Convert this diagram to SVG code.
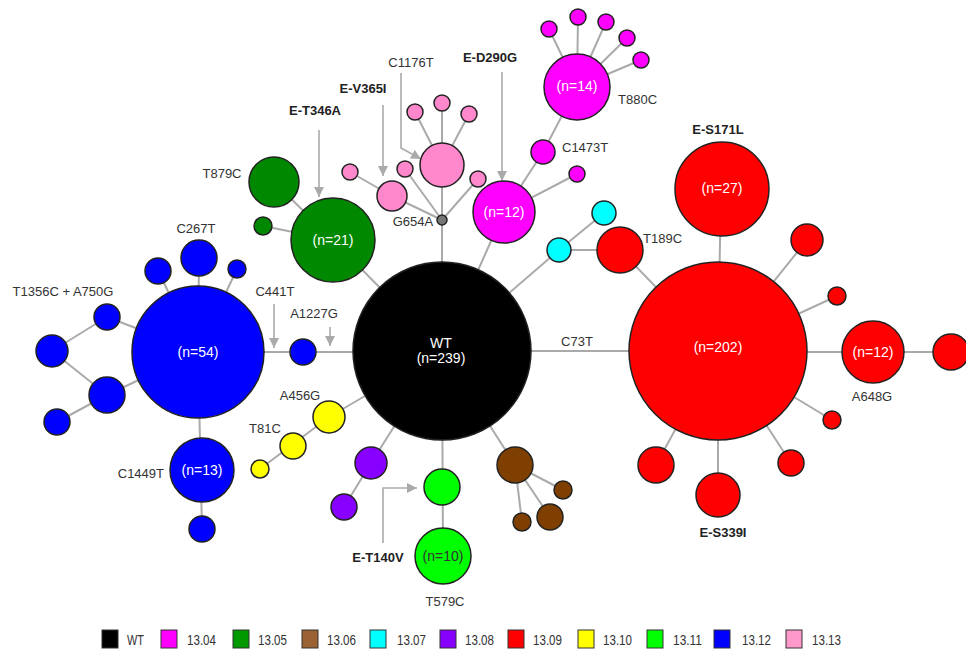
<svg xmlns="http://www.w3.org/2000/svg" width="966" height="650" viewBox="0 0 966 650">
<style>
.e{stroke:#aaa;stroke-width:2;fill:none}
.a{stroke:#aaa;stroke-width:1.6;fill:none}
circle{stroke:#222;stroke-width:1.5}
.wt{fill:#000}.c04{fill:#ff00ff}.c05{fill:#008800}.c06{fill:#7f3f00}.c07{fill:#00ffff}.c08{fill:#8800ff}.c09{fill:#ff0000}.c10{fill:#ffff00}.c11{fill:#00ff00}.c12{fill:#0000ff}.c13{fill:#ff88cc}.g{fill:#777}
text{font-family:"Liberation Sans",Arial,sans-serif;font-size:13px;fill:#333}
.b{font-weight:bold;fill:#222}
.in{fill:#fff;font-size:14px;text-anchor:middle}
.m{text-anchor:middle}.r{text-anchor:end}
.lg{font-size:14px;fill:#333}
.lb{stroke:#333;stroke-width:1}
</style>
<defs>
<marker id="ah" viewBox="0 0 10 10" refX="10" refY="5" markerWidth="10" markerHeight="10" markerUnits="userSpaceOnUse" orient="auto">
<path d="M0,0 L10,5 L0,10 z" fill="#aaa"/>
</marker>
</defs>
<rect width="966" height="650" fill="#fff"/>
<g id="connectors">
<line class="e" x1="442" y1="351" x2="718" y2="351"/>
<line class="e" x1="442" y1="352" x2="198" y2="352"/>
<line class="e" x1="442" y1="351" x2="442" y2="103"/>
<line class="e" x1="442" y1="165" x2="415" y2="112"/>
<line class="e" x1="442" y1="165" x2="469" y2="114"/>
<line class="e" x1="442" y1="220" x2="392" y2="196"/>
<line class="e" x1="392" y1="196" x2="350" y2="172"/>
<line class="e" x1="442" y1="220" x2="405" y2="169"/>
<line class="e" x1="442" y1="220" x2="478" y2="179"/>
<line class="e" x1="442" y1="351" x2="504" y2="212"/>
<line class="e" x1="504" y1="212" x2="543" y2="152"/>
<line class="e" x1="543" y1="152" x2="577" y2="87"/>
<line class="e" x1="504" y1="212" x2="577" y2="174"/>
<line class="e" x1="577" y1="87" x2="549" y2="29"/>
<line class="e" x1="577" y1="87" x2="578" y2="17"/>
<line class="e" x1="577" y1="87" x2="606" y2="22"/>
<line class="e" x1="577" y1="87" x2="627" y2="38"/>
<line class="e" x1="577" y1="87" x2="641" y2="60"/>
<line class="e" x1="442" y1="351" x2="559" y2="250"/>
<line class="e" x1="559" y1="250" x2="604" y2="213"/>
<line class="e" x1="559" y1="250" x2="620" y2="250"/>
<line class="e" x1="620" y1="250" x2="718" y2="351"/>
<line class="e" x1="718" y1="351" x2="721" y2="189"/>
<line class="e" x1="718" y1="351" x2="807" y2="240"/>
<line class="e" x1="718" y1="351" x2="837" y2="296"/>
<line class="e" x1="718" y1="352" x2="951" y2="352"/>
<line class="e" x1="718" y1="351" x2="832" y2="420"/>
<line class="e" x1="718" y1="351" x2="791" y2="463"/>
<line class="e" x1="718" y1="351" x2="718" y2="495"/>
<line class="e" x1="718" y1="351" x2="656" y2="465"/>
<line class="e" x1="442" y1="351" x2="333" y2="240"/>
<line class="e" x1="333" y1="240" x2="274" y2="182"/>
<line class="e" x1="333" y1="240" x2="263" y2="226"/>
<line class="e" x1="198" y1="352" x2="199" y2="258"/>
<line class="e" x1="198" y1="352" x2="158" y2="271"/>
<line class="e" x1="198" y1="352" x2="237" y2="269"/>
<line class="e" x1="198" y1="352" x2="107" y2="317"/>
<line class="e" x1="107" y1="317" x2="52" y2="351"/>
<line class="e" x1="198" y1="352" x2="107" y2="395"/>
<line class="e" x1="107" y1="395" x2="52" y2="351"/>
<line class="e" x1="107" y1="395" x2="57" y2="422"/>
<line class="e" x1="198" y1="352" x2="202" y2="529"/>
<line class="e" x1="442" y1="351" x2="329" y2="417"/>
<line class="e" x1="329" y1="417" x2="260" y2="469"/>
<line class="e" x1="442" y1="351" x2="371" y2="463"/>
<line class="e" x1="371" y1="463" x2="344" y2="507"/>
<line class="e" x1="442" y1="351" x2="443" y2="556"/>
<line class="e" x1="442" y1="351" x2="515" y2="465"/>
<line class="e" x1="515" y1="465" x2="563" y2="490"/>
<line class="e" x1="515" y1="465" x2="550" y2="517"/>
<line class="e" x1="515" y1="465" x2="522" y2="522"/>
</g>
<g id="arrows">
<path class="a" d="M319,130 V197" marker-end="url(#ah)"/>
<path class="a" d="M383,105 V176" marker-end="url(#ah)"/>
<path class="a" d="M401,73 V148 L421,159" marker-end="url(#ah)"/>
<path class="a" d="M502,72 V181" marker-end="url(#ah)"/>
<path class="a" d="M274,304 V348" marker-end="url(#ah)"/>
<path class="a" d="M330,327 V346" marker-end="url(#ah)"/>
<path class="a" d="M383,543 V488 H417" marker-end="url(#ah)"/>
</g>
<g id="node-wt"><circle class="wt" cx="442" cy="351" r="89"/><text class="in" x="441" y="348">WT</text><text class="in" x="441" y="363">(n=239)</text></g>
<g id="node-r202"><circle class="c09" cx="718" cy="351" r="89"/><text class="in" x="718" y="352">(n=202)</text></g>
<g id="node-r27"><circle class="c09" cx="722" cy="189" r="47"/><text class="in" x="722" y="193">(n=27)</text></g>
<g id="node-r1"><circle class="c09" cx="807" cy="240" r="16"/></g>
<g id="node-r2"><circle class="c09" cx="837" cy="296" r="9"/></g>
<g id="node-r12"><circle class="c09" cx="873" cy="352" r="31"/><text class="in" x="873" y="357">(n=12)</text></g>
<g id="node-r3"><circle class="c09" cx="951" cy="352" r="18"/></g>
<g id="node-r4"><circle class="c09" cx="832" cy="420" r="9"/></g>
<g id="node-r5"><circle class="c09" cx="791" cy="463" r="13"/></g>
<g id="node-r6"><circle class="c09" cx="718" cy="495" r="22"/></g>
<g id="node-r7"><circle class="c09" cx="656" cy="465" r="18"/></g>
<g id="node-t189"><circle class="c09" cx="620" cy="250" r="23"/></g>
<g id="node-cy1"><circle class="c07" cx="559" cy="250" r="12"/></g>
<g id="node-cy2"><circle class="c07" cx="604" cy="213" r="12"/></g>
<g id="node-m12"><circle class="c04" cx="504" cy="212" r="31"/><text class="in" x="504" y="217">(n=12)</text></g>
<g id="node-m1473"><circle class="c04" cx="543" cy="152" r="12"/></g>
<g id="node-ms"><circle class="c04" cx="577" cy="174" r="8"/></g>
<g id="node-m14"><circle class="c04" cx="577" cy="87" r="33"/><text class="in" x="577" y="91">(n=14)</text></g>
<g id="node-m1"><circle class="c04" cx="549" cy="29" r="8"/></g>
<g id="node-m2"><circle class="c04" cx="578" cy="17" r="8"/></g>
<g id="node-m3"><circle class="c04" cx="606" cy="22" r="8"/></g>
<g id="node-m4"><circle class="c04" cx="627" cy="38" r="8"/></g>
<g id="node-m5"><circle class="c04" cx="641" cy="60" r="8"/></g>
<g id="node-g654"><circle class="g" cx="442" cy="220" r="5"/></g>
<g id="node-pbig"><circle class="c13" cx="442" cy="165" r="22"/></g>
<g id="node-p1"><circle class="c13" cx="415" cy="112" r="8"/></g>
<g id="node-p2"><circle class="c13" cx="442" cy="103" r="8"/></g>
<g id="node-p3"><circle class="c13" cx="469" cy="114" r="8"/></g>
<g id="node-p4"><circle class="c13" cx="350" cy="172" r="8"/></g>
<g id="node-p5"><circle class="c13" cx="405" cy="169" r="8"/></g>
<g id="node-p6"><circle class="c13" cx="478" cy="179" r="8"/></g>
<g id="node-pm"><circle class="c13" cx="392" cy="196" r="15"/></g>
<g id="node-g21"><circle class="c05" cx="333" cy="240" r="42"/><text class="in" x="333" y="245">(n=21)</text></g>
<g id="node-g879"><circle class="c05" cx="274" cy="182" r="25"/></g>
<g id="node-gs"><circle class="c05" cx="263" cy="226" r="9"/></g>
<g id="node-b54"><circle class="c12" cx="198" cy="352" r="66"/><text class="in" x="198" y="357">(n=54)</text></g>
<g id="node-b267"><circle class="c12" cx="199" cy="258" r="18"/></g>
<g id="node-b1"><circle class="c12" cx="158" cy="271" r="13"/></g>
<g id="node-b2"><circle class="c12" cx="237" cy="269" r="9"/></g>
<g id="node-b3"><circle class="c12" cx="107" cy="317" r="13"/></g>
<g id="node-b4"><circle class="c12" cx="52" cy="351" r="16"/></g>
<g id="node-b5"><circle class="c12" cx="107" cy="395" r="18"/></g>
<g id="node-b6"><circle class="c12" cx="57" cy="422" r="13"/></g>
<g id="node-b1227"><circle class="c12" cx="303" cy="352" r="13"/></g>
<g id="node-b13"><circle class="c12" cx="202" cy="470" r="32"/><text class="in" x="202" y="475">(n=13)</text></g>
<g id="node-b7"><circle class="c12" cx="202" cy="529" r="13"/></g>
<g id="node-y1"><circle class="c10" cx="329" cy="417" r="16"/></g>
<g id="node-y2"><circle class="c10" cx="293" cy="446" r="13"/></g>
<g id="node-y3"><circle class="c10" cx="260" cy="469" r="9"/></g>
<g id="node-pu1"><circle class="c08" cx="371" cy="463" r="16"/></g>
<g id="node-pu2"><circle class="c08" cx="344" cy="507" r="13"/></g>
<g id="node-l1"><circle class="c11" cx="442" cy="487" r="18"/></g>
<g id="node-l10"><circle class="c11" cx="443" cy="556" r="28"/><text class="in" x="443" y="561" style="fill:#333">(n=10)</text></g>
<g id="node-br1"><circle class="c06" cx="515" cy="465" r="18"/></g>
<g id="node-br2"><circle class="c06" cx="563" cy="490" r="9"/></g>
<g id="node-br3"><circle class="c06" cx="550" cy="517" r="13"/></g>
<g id="node-br4"><circle class="c06" cx="522" cy="522" r="9"/></g>
<g id="labels">
<text class="b m" x="315" y="115">E-T346A</text>
<text class="b m" x="363" y="93">E-V365I</text>
<text class="m" x="411" y="67">C1176T</text>
<text class="b m" x="490" y="62">E-D290G</text>
<text x="618" y="104">T880C</text>
<text x="562" y="152">C1473T</text>
<text class="m" x="413" y="226">G654A</text>
<text class="m" x="222" y="178">T879C</text>
<text class="m" x="196" y="233">C267T</text>
<text class="m" x="63" y="296">T1356C + A750G</text>
<text class="m" x="275" y="296">C441T</text>
<text class="m" x="314" y="318">A1227G</text>
<text class="m" x="300" y="400">A456G</text>
<text class="m" x="265" y="433">T81C</text>
<text class="r" x="164" y="478">C1449T</text>
<text class="b m" x="378" y="562">E-T140V</text>
<text class="m" x="445" y="606">T579C</text>
<text class="m" x="577" y="346">C73T</text>
<text class="b m" x="718" y="134">E-S171L</text>
<text x="643" y="243">T189C</text>
<text class="m" x="872" y="401">A648G</text>
<text class="b m" x="723" y="537">E-S339I</text>
</g>
<g id="legend">
<rect class="lb wt" x="102" y="630" width="16" height="18"/><text class="lg" x="127" y="645" textLength="17" lengthAdjust="spacingAndGlyphs">WT</text>
<rect class="lb c04" x="161" y="630" width="16" height="18"/><text class="lg" x="187" y="645" textLength="29" lengthAdjust="spacingAndGlyphs">13.04</text>
<rect class="lb" fill="#009900" x="233" y="630" width="16" height="18"/><text class="lg" x="258" y="645" textLength="29" lengthAdjust="spacingAndGlyphs">13.05</text>
<rect class="lb" fill="#9b6333" x="302" y="630" width="16" height="18"/><text class="lg" x="327" y="645" textLength="29" lengthAdjust="spacingAndGlyphs">13.06</text>
<rect class="lb c07" x="370" y="630" width="16" height="18"/><text class="lg" x="397" y="645" textLength="29" lengthAdjust="spacingAndGlyphs">13.07</text>
<rect class="lb c08" x="440" y="630" width="16" height="18"/><text class="lg" x="465" y="645" textLength="29" lengthAdjust="spacingAndGlyphs">13.08</text>
<rect class="lb c09" x="508" y="630" width="16" height="18"/><text class="lg" x="533" y="645" textLength="29" lengthAdjust="spacingAndGlyphs">13.09</text>
<rect class="lb c10" x="578" y="630" width="16" height="18"/><text class="lg" x="603" y="645" textLength="29" lengthAdjust="spacingAndGlyphs">13.10</text>
<rect class="lb c11" x="647" y="630" width="16" height="18"/><text class="lg" x="673" y="645" textLength="29" lengthAdjust="spacingAndGlyphs">13.11</text>
<rect class="lb c12" x="714" y="630" width="16" height="18"/><text class="lg" x="742" y="645" textLength="29" lengthAdjust="spacingAndGlyphs">13.12</text>
<rect class="lb" fill="#ff99cc" x="786" y="630" width="16" height="18"/><text class="lg" x="812" y="645" textLength="29" lengthAdjust="spacingAndGlyphs">13.13</text>
</g>
</svg>
